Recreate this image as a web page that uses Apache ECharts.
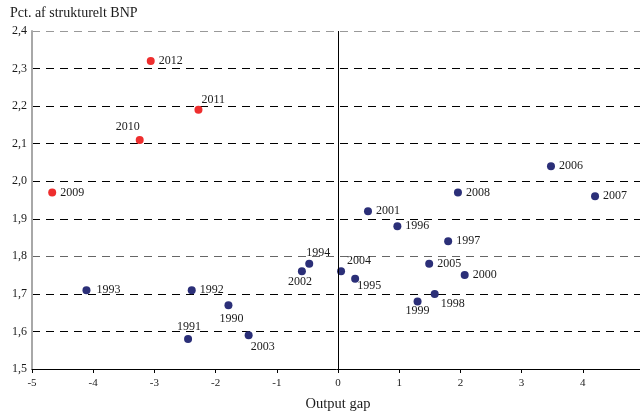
<!DOCTYPE html>
<html>
<head>
<meta charset="utf-8">
<script src="https://cdn.jsdelivr.net/npm/echarts@6/dist/echarts.min.js"></script>
<style>
  html, body { margin: 0; padding: 0; background: #fff; }
  #chart { width: 640px; height: 411px; }
</style>
</head>
<body>
<div id="chart"></div>
<script>
// Structural budget balance vs. output gap, by year
const yearsBefore = [1990, 1991, 1992, 1993, 1994, 1995, 1996, 1997, 1998, 1999,
                     2000, 2001, 2002, 2003, 2004, 2005, 2006, 2007, 2008];
const gapBefore = [-1.79, -2.45, -2.39, -4.11, -0.47, 0.28, 0.97, 1.80, 1.58, 1.30,
                   2.07, 0.49, -0.59, -1.46, 0.05, 1.49, 3.48, 4.20, 1.96];
const balanceBefore = [1.67, 1.58, 1.71, 1.71, 1.78, 1.74, 1.88, 1.84, 1.70, 1.68,
                       1.75, 1.92, 1.76, 1.59, 1.76, 1.78, 2.04, 1.96, 1.97];

const yearsAfter = [2009, 2010, 2011, 2012];
const gapAfter = [-4.67, -3.24, -2.28, -3.06];
const balanceAfter = [1.97, 2.11, 2.19, 2.32];

const yTicks = ['1,5', '1,6', '1,7', '1,8', '1,9', '2,0', '2,1', '2,2', '2,3', '2,4'];
const xTicks = ['-5', '-4', '-3', '-2', '-1', '0', '1', '2', '3', '4'];

// Where each year's label sits relative to its dot
const labelSpot = {
  1990: { position: 'bottom', offset: [3, 0] },
  1991: { position: 'top', offset: [1, 2] },
  1993: { position: 'right', offset: [2, 0] },
  1994: { position: 'top', offset: [9, 3] },
  1995: { position: 'bottom', offset: [14, -7] },
  1998: { position: 'bottom', offset: [18, -4] },
  1999: { position: 'bottom', offset: [0, -5] },
  2002: { position: 'bottom', offset: [-2, -4] },
  2003: { position: 'bottom', offset: [14, -2] },
  2004: { position: 'top', offset: [18, 3] },
  2010: { position: 'top', offset: [-12, 1] },
  2011: { position: 'right', offset: [-5, -10] }
};

const FONT = '"Liberation Serif", "Times New Roman", serif';
const TEXT = '#1a1a1a';

function points(years, gaps, balances) {
  return years.map((yr, i) => {
    const spot = labelSpot[yr] || { position: 'right', offset: [0, 0] };
    return {
      value: [gaps[i], balances[i], yr],
      label: { position: spot.position, offset: spot.offset }
    };
  });
}

const labelStyle = {
  show: true,
  formatter: p => String(p.value[2]),
  fontFamily: FONT,
  fontSize: 12,
  color: TEXT,
  distance: 4
};

const chart = echarts.init(document.getElementById('chart'));
chart.setOption({
  animation: false,
  backgroundColor: '#fff',
  grid: { left: 32, width: 612, top: 31, bottom: 42, outerBoundsMode: 'none', containLabel: false },
  xAxis: {
    type: 'value',
    min: -5, max: 5, interval: 1,
    name: 'Output gap',
    nameLocation: 'middle',
    nameGap: 28,
    nameTextStyle: { fontFamily: FONT, fontSize: 14.5, color: TEXT },
    axisLine: { onZero: false, lineStyle: { color: '#000', width: 1 } },
    axisTick: { show: true, length: 4, lineStyle: { color: '#000' } },
    axisLabel: {
      fontFamily: FONT, fontSize: 11, color: TEXT, margin: 9,
      formatter: v => xTicks[Math.round(v) + 5] || ''
    },
    splitLine: { show: false }
  },
  yAxis: {
    type: 'value',
    min: 1.5, max: 2.4, interval: 0.1,
    name: 'Pct. af strukturelt BNP',
    nameLocation: 'end',
    nameGap: 11,
    nameTextStyle: { fontFamily: FONT, fontSize: 14, color: TEXT, align: 'left', padding: [0, 0, 0, -22] },
    axisLine: { show: true, onZero: false, lineStyle: { color: '#a8a8a8', width: 2 } },
    axisTick: { show: false },
    axisLabel: {
      fontFamily: FONT, fontSize: 12, color: TEXT, margin: 5,
      formatter: v => yTicks[Math.round((v - 1.5) * 10)]
    },
    splitLine: {
      show: true,
      lineStyle: {
        type: [8, 6],
        width: 1.2,
        color: ['#000', '#000', '#000', '#666', '#000', '#000', '#000', '#000', '#000', '#999']
      }
    }
  },
  series: [
    {
      type: 'scatter',
      symbolSize: 8,
      itemStyle: { color: '#2b2f78', opacity: 1 },
      label: labelStyle,
      data: points(yearsBefore, gapBefore, balanceBefore),
      markLine: {
        silent: true,
        symbol: 'none',
        label: { show: false },
        lineStyle: { color: '#000', type: 'solid', width: 1 },
        data: [{ xAxis: 0 }]
      },
      z: 3
    },
    {
      type: 'scatter',
      symbolSize: 8,
      itemStyle: { color: '#ee2e2e', opacity: 1 },
      label: labelStyle,
      data: points(yearsAfter, gapAfter, balanceAfter),
      z: 3
    }
  ]
});
</script>
</body>
</html>
